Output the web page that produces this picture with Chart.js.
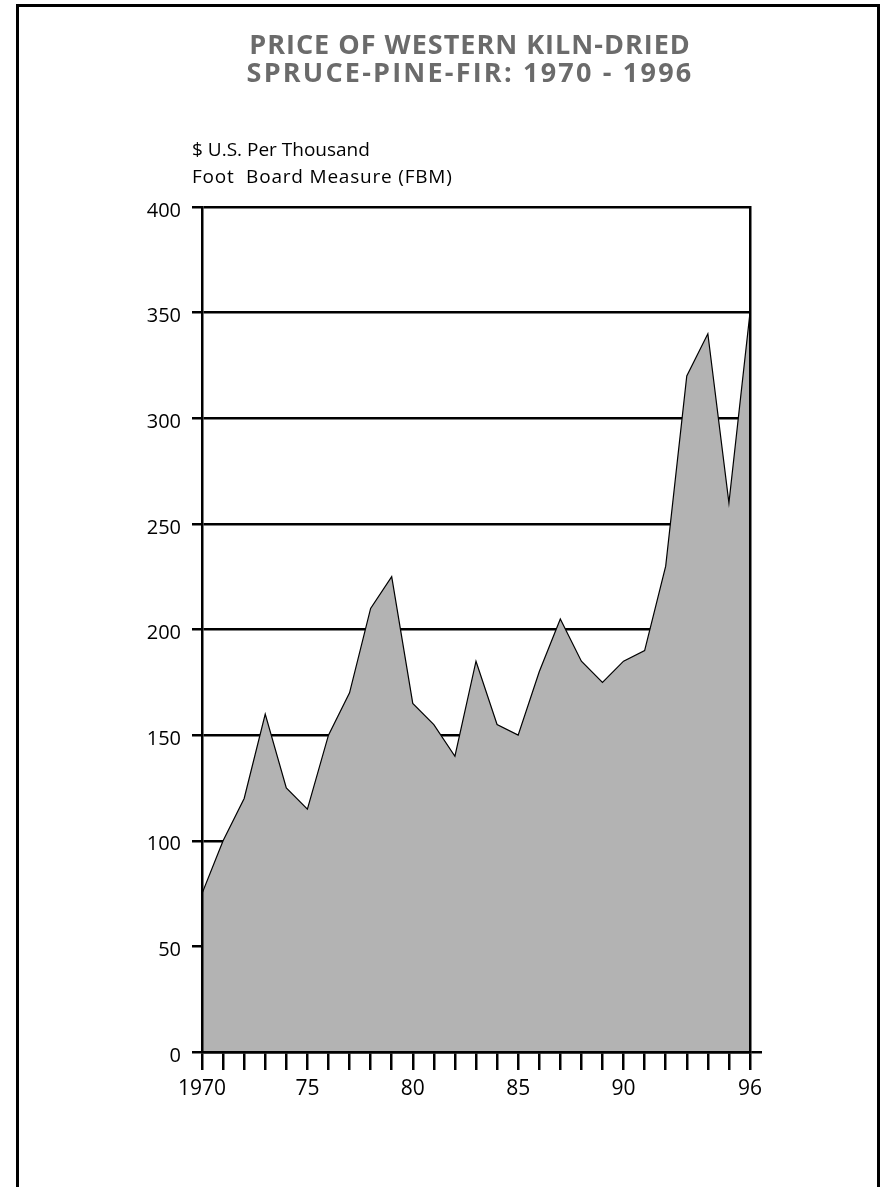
<!DOCTYPE html>
<html><head><meta charset="utf-8">
<script src="https://cdn.jsdelivr.net/npm/chart.js@4.4.1/dist/chart.umd.min.js"></script>
<style>
html,body{margin:0;padding:0;background:#fff;}
body{width:884px;height:1187px;position:relative;overflow:hidden;font-family:"Open Sans",sans-serif;}
#c{position:absolute;left:0;top:0;}
#frame{position:absolute;left:16px;top:4px;width:858px;height:1300px;border:3px solid #000;pointer-events:none;}
#title{position:absolute;left:0;width:940px;top:30px;text-align:center;font-weight:bold;font-size:27px;line-height:28px;letter-spacing:1px;color:#6b6b6b;white-space:nowrap;}
#title .l2{letter-spacing:2.2px;}
#ytitle{position:absolute;left:192px;top:136px;font-size:19px;line-height:27px;color:#000;white-space:pre;}
#ytitle .l2{letter-spacing:0.8px;}
</style>
</head><body>
<canvas id="c" width="884" height="1187"></canvas>
<div id="frame"></div>
<div id="title">PRICE OF WESTERN KILN-DRIED<br><span class="l2">SPRUCE-PINE-FIR: 1970 - 1996</span></div>
<div id="ytitle">$ U.S. Per Thousand
<span class="l2">Foot  Board Measure (FBM)</span></div>
<script>
const years = [1970,1971,1972,1973,1974,1975,1976,1977,1978,1979,1980,1981,1982,1983,1984,1985,1986,1987,1988,1989,1990,1991,1992,1993,1994,1995,1996];
const prices = [75,100,120,160,125,115,150,170,210,225,165,155,140,185,155,150,180,205,185,175,185,190,230,320,340,260,350];
const labelYears = [1970,1975,1980,1985,1990,1996];
const labelTexts = ['1970','75','80','85','90','96'];
const yMin = 0, yMax = 400, yStep = 50;

Chart.defaults.font.family = '"Open Sans", sans-serif';
Chart.defaults.color = '#000';

new Chart(document.getElementById('c'), {
  type: 'line',
  data: {
    datasets: [{
      data: years.map((y, i) => ({x: y, y: prices[i]})),
      xAxisID: 'x', yAxisID: 'y',
      fill: 'origin',
      backgroundColor: '#b3b3b3',
      borderColor: '#000',
      borderWidth: 1.2,
      pointRadius: 0,
      tension: 0
    }]
  },
  options: {
    responsive: false,
    animation: false,
    devicePixelRatio: 1,
    layout: {padding: {left: 0, right: 134, top: 207, bottom: 75}},
    plugins: {legend: {display: false}, tooltip: {enabled: false}, title: {display: false}},
    scales: {
      x: {
        type: 'linear', min: years[0], max: years[years.length - 1],
        afterFit: s => { s.height = 60; },
        grid: {drawOnChartArea: false, drawTicks: true, tickLength: 18, color: '#000', lineWidth: 2.5},
        border: {display: true, color: '#000', width: 2.5, z: 1},
        ticks: {
          stepSize: 1, autoSkip: false, maxRotation: 0, minRotation: 0, maxTicksLimit: 1000, padding: 6,
          font: {size: 21},
          callback: v => { const k = labelYears.indexOf(v); return k >= 0 ? labelTexts[k] : ''; }
        }
      },
      y: {
        min: yMin, max: yMax,
        afterFit: s => { s.width = 202; },
        grid: {color: '#000', lineWidth: 2.5, tickLength: 10, drawTicks: true},
        border: {display: true, color: '#000', width: 2.5, z: 1},
        ticks: {stepSize: yStep, padding: 11, labelOffset: 4, font: {size: 20}}
      },
      y2: {
        position: 'right', min: yMin, max: yMax,
        afterFit: s => { s.width = 0; },
        afterBuildTicks: s => { s.ticks = [{value: yMin}]; },
        grid: {drawOnChartArea: false, drawTicks: true, tickLength: 12, color: '#000', lineWidth: 2.5},
        border: {display: true, color: '#000', width: 2.5, z: 1},
        ticks: {display: false}
      }
    }
  }
});
</script>
</body></html>
